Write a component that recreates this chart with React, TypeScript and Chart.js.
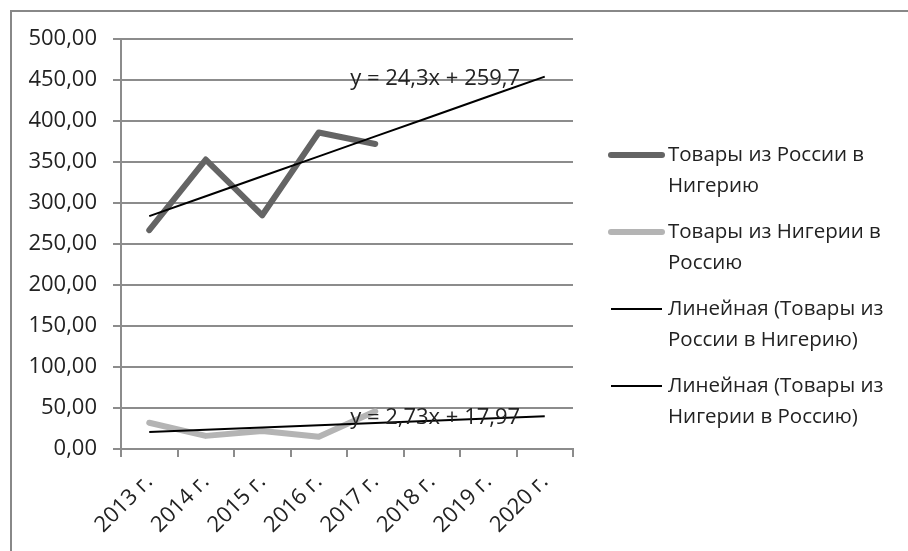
import React, { useEffect, useRef } from "react";
import { Chart, registerables } from "chart.js";

Chart.register(...registerables);

const categories = ["2013 г.", "2014 г.", "2015 г.", "2016 г.", "2017 г.", "2018 г.", "2019 г.", "2020 г."];
const russiaToNigeria = [267, 353, 285, 386, 372, null, null, null];
const nigeriaToRussia = [32, 16, 22, 15, 46, null, null, null];
// trend lines as shown (y = 24,3x + 259,7 and y = 2,73x + 17,97)
const trendRussia = [284.0, 308.3, 332.6, 356.9, 381.2, 405.5, 429.8, 454.1];
const trendNigeria = [20.7, 23.43, 26.16, 28.89, 31.62, 34.35, 37.08, 39.81];
const seriesLabels = [
  "Товары из России в\nНигерию",
  "Товары из Нигерии в\nРоссию",
  "Линейная (Товары из\nРоссии в Нигерию)",
  "Линейная (Товары из\nНигерии в Россию)",
];
const trendLabels = ["y = 24,3x + 259,7", "y = 2,73x + 17,97"];
const trendLabelAnchors = [
  { xIndex: 5.06, value: 452 },
  { xIndex: 5.06, value: 38 },
];

const FONT = "'Open Sans', sans-serif";
const TICK_SIZE = 22;
const LEGEND_SIZE = 20.5;
const TEXT = "#222222";
const GRID = "#8c8c8c";

const framePlugin = {
  id: "frame",
  beforeDraw(chart: any) {
    const { ctx } = chart;
    ctx.save();
    ctx.fillStyle = "#ffffff";
    ctx.fillRect(0, 0, chart.width, chart.height);
    ctx.strokeStyle = "#888888";
    ctx.lineWidth = 2;
    ctx.beginPath();
    ctx.moveTo(11, chart.height + 2);
    ctx.lineTo(11, 11);
    ctx.lineTo(chart.width + 2, 11);
    ctx.stroke();
    ctx.restore();
  },
};

const extrasPlugin = {
  id: "extras",
  afterDraw(chart: any) {
    const { ctx } = chart;
    const xs = chart.scales.x;
    const ys = chart.scales.y;
    ctx.save();
    // trend equations
    ctx.font = `${TICK_SIZE}px ${FONT}`;
    ctx.fillStyle = TEXT;
    ctx.textAlign = "center";
    ctx.textBaseline = "middle";
    trendLabels.forEach((t, i) => {
      const a = trendLabelAnchors[i];
      ctx.fillText(t, xs.getPixelForValue(a.xIndex), ys.getPixelForValue(a.value));
    });
    // legend
    const lx0 = 611;
    const lx1 = 662;
    const tx = 668;
    let y = 155;
    ctx.font = `${LEGEND_SIZE}px ${FONT}`;
    ctx.textAlign = "left";
    chart.data.datasets.forEach((ds: any) => {
      ctx.strokeStyle = ds.borderColor;
      ctx.lineWidth = ds.borderWidth;
      ctx.lineCap = ds.borderWidth > 3 ? "round" : "butt";
      ctx.beginPath();
      ctx.moveTo(lx0, y);
      ctx.lineTo(lx1, y);
      ctx.stroke();
      const lines = String(ds.label).split("\n");
      lines.forEach((ln, j) => {
        ctx.fillText(ln, tx, y + j * 31);
      });
      y += 77;
    });
    ctx.restore();
  },
};

export default function App() {
  const ref = useRef<HTMLCanvasElement | null>(null);
  useEffect(() => {
    if (!ref.current) return;
    const chart = new Chart(ref.current, {
      type: "line",
      data: {
        labels: categories,
        datasets: [
          {
            label: seriesLabels[0],
            data: russiaToNigeria,
            borderColor: "#646464",
            borderWidth: 6,
            pointRadius: 0,
            borderJoinStyle: "round",
            borderCapStyle: "round",
            order: 2,
          },
          {
            label: seriesLabels[1],
            data: nigeriaToRussia,
            borderColor: "#b4b4b4",
            borderWidth: 6,
            pointRadius: 0,
            borderJoinStyle: "round",
            borderCapStyle: "round",
            order: 2,
          },
          {
            label: seriesLabels[2],
            data: trendRussia,
            borderColor: "#000000",
            borderWidth: 2,
            pointRadius: 0,
            order: 1,
          },
          {
            label: seriesLabels[3],
            data: trendNigeria,
            borderColor: "#000000",
            borderWidth: 2,
            pointRadius: 0,
            order: 1,
          },
        ],
      },
      options: {
        animation: false,
        responsive: false,
        maintainAspectRatio: false,
        layout: { padding: { left: 0, top: 39, right: 335, bottom: 0 } },
        plugins: { legend: { display: false }, tooltip: { enabled: false } },
        scales: {
          x: {
            offset: true,
            grid: { display: true, drawOnChartArea: false, drawTicks: true, tickLength: 8, offset: true, color: GRID, lineWidth: 2 },
            border: { display: true, color: GRID, width: 2 },
            ticks: {
              minRotation: 45,
              maxRotation: 45,
              autoSkip: false,
              padding: 12,
              color: TEXT,
              font: { family: FONT, size: TICK_SIZE },
            },
            afterFit(scale: any) {
              scale.height = 102;
            },
          },
          y: {
            min: 0,
            max: 500,
            grid: { color: GRID, lineWidth: 2, tickLength: 8 },
            border: { display: true, color: GRID, width: 2 },
            ticks: {
              stepSize: 50,
              padding: 16,
              color: TEXT,
              font: { family: FONT, size: TICK_SIZE },
              callback: (v: any) => Number(v).toFixed(2).replace(".", ","),
            },
            afterFit(scale: any) {
              scale.width = 121;
            },
          },
        },
      },
      plugins: [framePlugin, extrasPlugin],
    });
    return () => chart.destroy();
  }, []);
  return (
    <canvas
      ref={ref}
      width={908}
      height={551}
      style={{ position: "fixed", left: 0, top: 0, width: 908, height: 551 }}
    />
  );
}
